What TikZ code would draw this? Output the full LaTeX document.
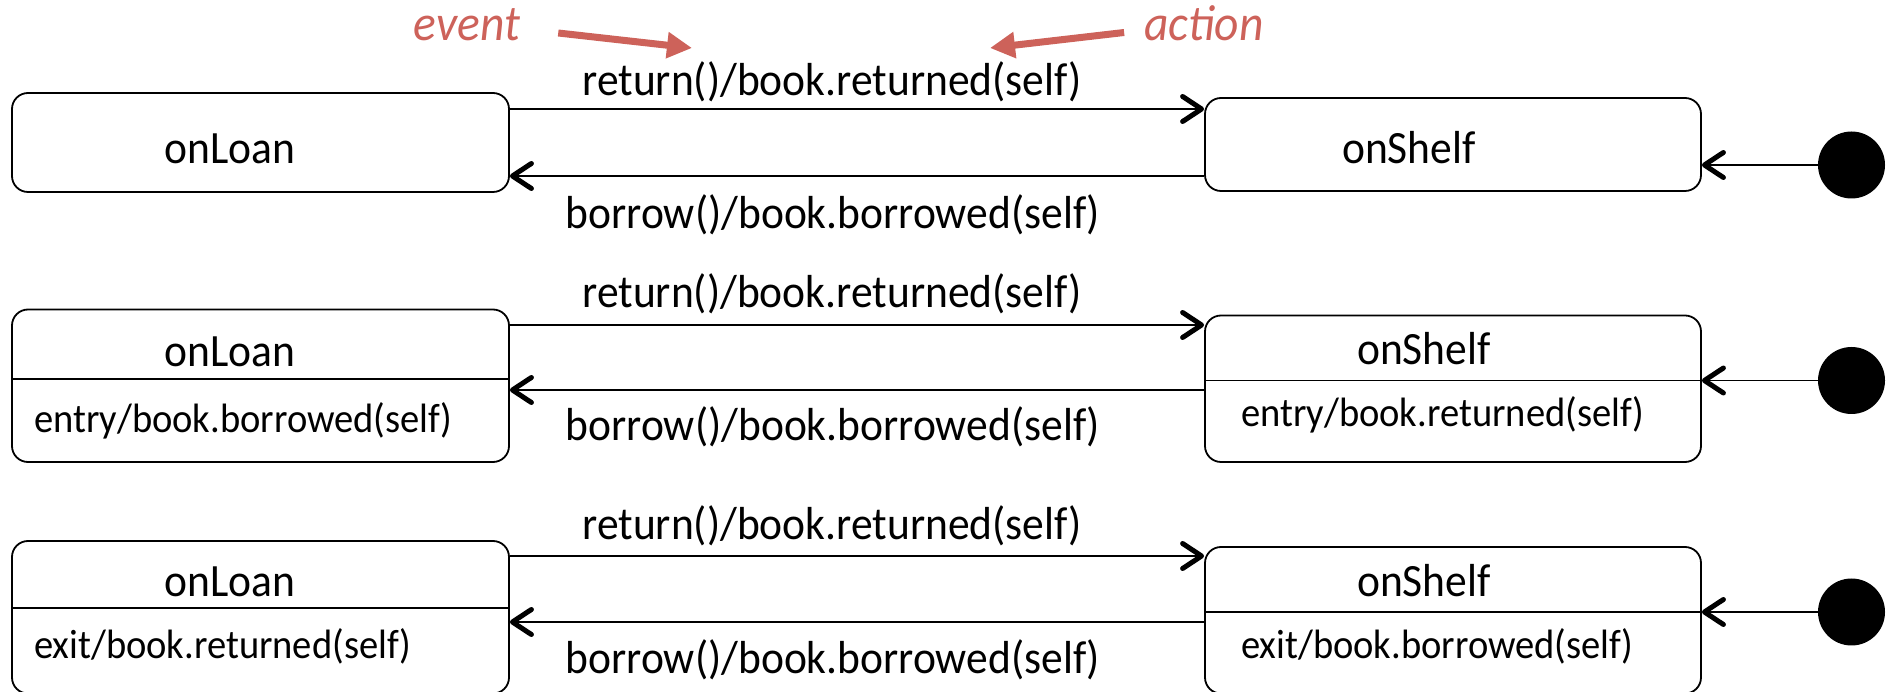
\documentclass[tikz,border=0pt]{standalone}
\usepackage{fontspec}
\setmainfont{Carlito}[FakeStretch=0.94]
\usetikzlibrary{arrows.meta}
\definecolor{notered}{RGB}{205,98,90}
\newcommand\transfont{\fontsize{46.3}{52}\selectfont}
\newcommand\actfont{\fontsize{41}{46}\selectfont}
\newcommand\notefont{\fontsize{50.5}{56}\selectfont\itshape}
\tikzset{
  statebox/.style={draw, line width=1.8pt, rounded corners=16pt, inner sep=0pt, fill=white},
  trans/.style={line width=1.8pt, -{Straight Barb[length=19pt,width=25pt,line width=5pt,round]}},
  divider/.style={line width=1.8pt},
  initdot/.style={circle, fill=black, minimum size=67pt, inner sep=0pt},
  label/.style={font=\transfont, anchor=base, inner sep=0pt},
  title/.style={font=\transfont, anchor=base, inner sep=0pt},
  activity/.style={font=\actfont, anchor=base west, inner sep=0pt},
  note/.style={font=\notefont, text=notered, anchor=base, inner sep=0pt},
  notearrow/.style={draw=notered, line width=7pt, -{Triangle[length=25pt,width=25pt,fill=notered]}}
}
\begin{document}
\begin{tikzpicture}[x=1pt,y=1pt]
\useasboundingbox (0,0) rectangle (1888,691);
\clip (0,0) rectangle (1888,691);

% annotations
\node[note] (ev) at (467,650) {event};
\node[note] (ac) at (1204,650) {action};
\coordinate (evtip) at (692,643);
\coordinate (actip) at (990,643);
\draw[notearrow] (ev.east |- 0,658) ++(38,0) coordinate (evtail) -- (evtip);
\draw[notearrow] (ac.west |- 0,658.5) ++(-20,0) coordinate (actail) -- (actip);

% ---- row 1: plain states ----
\node[statebox, minimum width=497pt, minimum height=99pt] (L1) at (260.5,548.5) {};
\node[statebox, minimum width=496pt, minimum height=93pt] (S1) at (1453,546.5) {};
\node[title] (L1t) at (230,527) {onLoan};
\node[title] (S1t) at (1409,527) {onShelf};
\node[initdot] (D1) at (1851.5,526) {};
\coordinate (r1) at (0,582);
\coordinate (b1) at (0,515);
\draw[trans] (L1.east |- r1) -- (S1.west |- r1);
\draw[trans] (S1.west |- b1) -- (L1.east |- b1);
\draw[trans] (D1.west) -- (S1.east |- D1.west);
\node[label] (R1) at (832,595) {return()/book.returned(self)};
\node[label] (B1) at (833,462) {borrow()/book.borrowed(self)};

% ---- row 2: entry actions ----
\node[statebox, minimum width=497pt, minimum height=152.5pt] (L2) at (260.5,305.25) {};
\node[statebox, minimum width=496pt, minimum height=146.5pt] (S2) at (1453,302.25) {};
\coordinate (l2d) at (0,312);
\coordinate (s2d) at (0,310.5);
\draw[divider] (L2.west |- l2d) -- (L2.east |- l2d);
\draw[divider] (S2.west |- s2d) -- (S2.east |- s2d);
\node[title] (L2t) at (230,324) {onLoan};
\node[title] (S2t) at (1424,326) {onShelf};
\node[activity] (L2a) at (34,258) {entry/book.borrowed(self)};
\node[activity] (S2a) at (1241,264) {entry/book.returned(self)};
\node[initdot] (D2) at (1851.5,310.5) {};
\coordinate (r2) at (0,366);
\coordinate (b2) at (0,301);
\draw[trans] (L2.east |- r2) -- (S2.west |- r2);
\draw[trans] (S2.west |- b2) -- (L2.east |- b2);
\draw[trans] (D2.west) -- (S2.east |- D2.west);
\node[label] (R2) at (832,383) {return()/book.returned(self)};
\node[label] (B2) at (833,250) {borrow()/book.borrowed(self)};

% ---- row 3: exit actions ----
\node[statebox, minimum width=497pt, minimum height=152.5pt] (L3) at (260.5,73.75) {};
\node[statebox, minimum width=496pt, minimum height=146.5pt] (S3) at (1453,70.75) {};
\coordinate (l3d) at (0,83);
\coordinate (s3d) at (0,79);
\draw[divider] (L3.west |- l3d) -- (L3.east |- l3d);
\draw[divider] (S3.west |- s3d) -- (S3.east |- s3d);
\node[title] (L3t) at (230,94) {onLoan};
\node[title] (S3t) at (1424,94) {onShelf};
\node[activity] (L3a) at (34,32) {exit/book.returned(self)};
\node[activity] (S3a) at (1241,32) {exit/book.borrowed(self)};
\node[initdot] (D3) at (1851.5,79) {};
\coordinate (r3) at (0,135);
\coordinate (b3) at (0,69);
\draw[trans] (L3.east |- r3) -- (S3.west |- r3);
\draw[trans] (S3.west |- b3) -- (L3.east |- b3);
\draw[trans] (D3.west) -- (S3.east |- D3.west);
\node[label] (R3) at (832,151) {return()/book.returned(self)};
\node[label] (B3) at (833,17) {borrow()/book.borrowed(self)};
\end{tikzpicture}
\end{document}
